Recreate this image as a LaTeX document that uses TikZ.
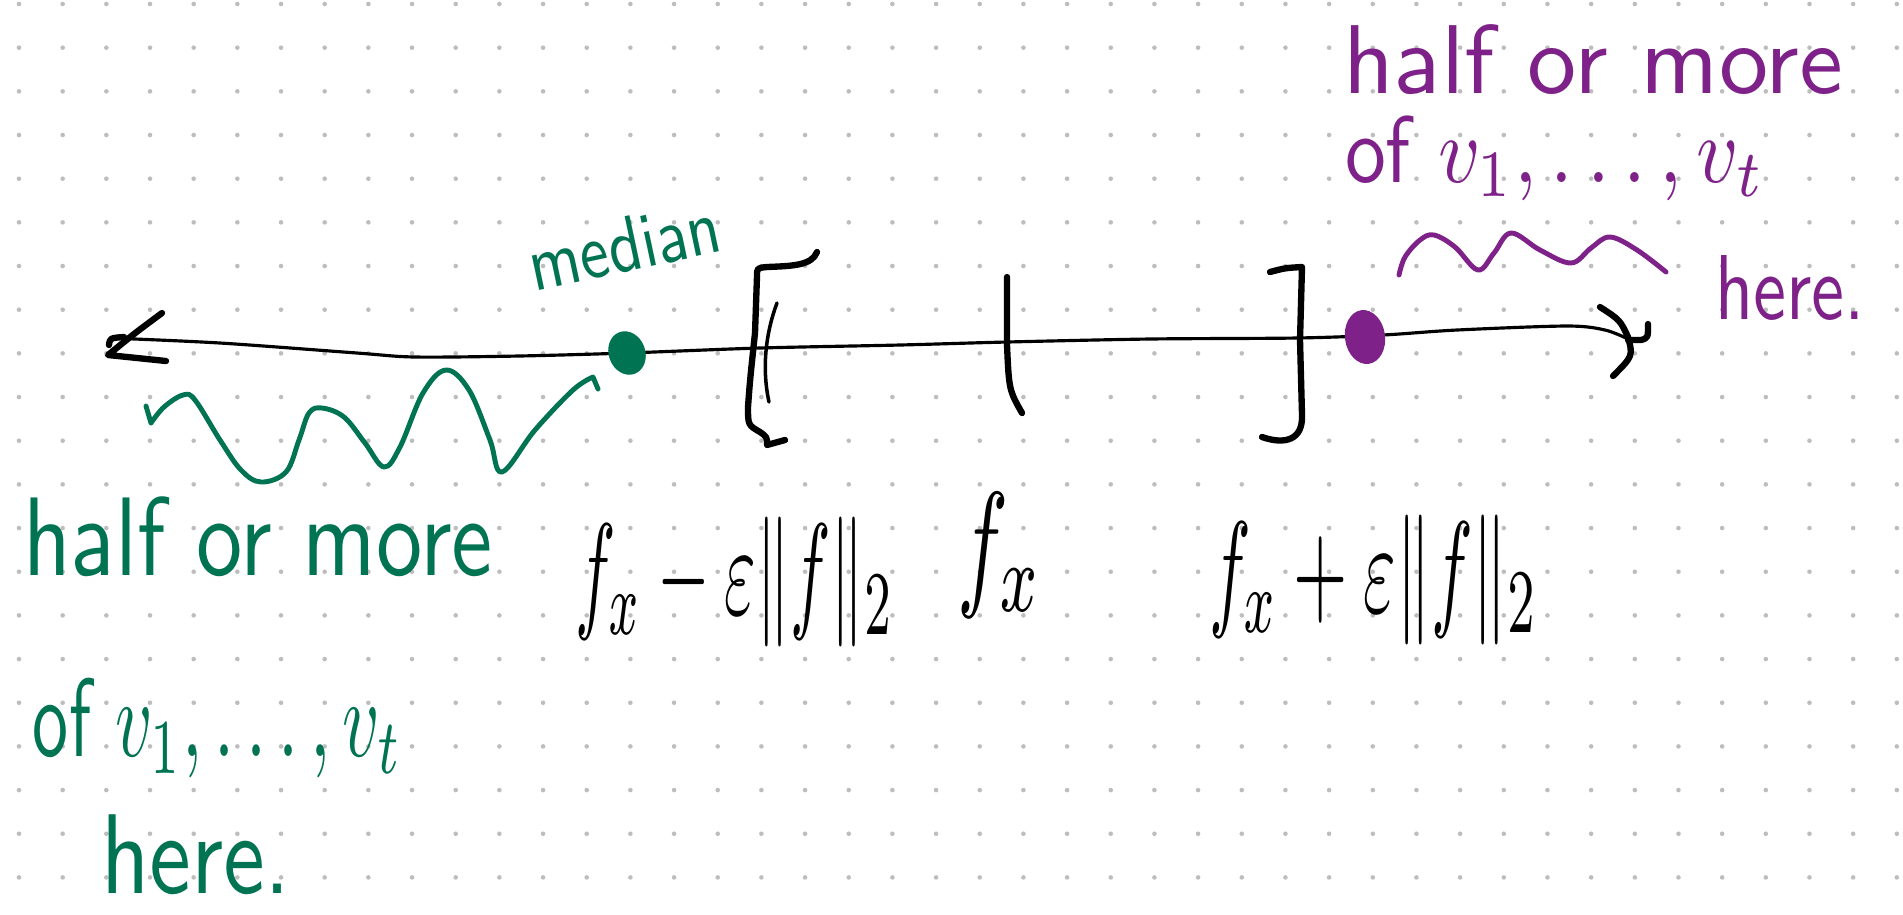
\documentclass[tikz,border=0pt]{standalone}
\usepackage{fontspec}
\usepackage{graphicx}
\newlength\pxu
\setlength\pxu{0.01cm}
% scale a piece of text to a given width and total height (in drawing units)
\newcommand\fitto[3]{\resizebox*{#1\pxu}{#2\pxu}{#3}}
\definecolor{inkgreen}{HTML}{007352}
\definecolor{inkpurple}{HTML}{7E2289}
\definecolor{griddot}{HTML}{BDBDBD}
\begin{document}
\begin{tikzpicture}[x=0.01cm,y=-0.01cm,
  pen/.style={line cap=round,line join=round},
  axisline/.style={pen,line width=0.9pt,black},
  heavy/.style={pen,line width=1.8pt,black},
  wave/.style={pen,line width=1.4pt},
  word/.style={inner sep=0pt,font=\sffamily},
  label/.style={inner sep=0pt,text=black}]
\useasboundingbox[fill=white] (0,0) rectangle (1903,914);

% dotted paper
\foreach \i in {0,...,43}
  \foreach \j in {0,...,20}
    \fill[griddot] ({19+43.67*\i},{4+43.67*\j}) circle (0.65pt);

% number line
\coordinate (leftend) at (110,338);
\coordinate (rightend) at (1628,339);
\draw[axisline] plot[smooth] coordinates {(110,338) (220,343) (357,353) (415,357) (519,356) (627,353) (760,348) (900,345) (1007,342) (1150,339) (1297,338) (1383,335) (1457,330) (1567,326) (1605,330) (1628,339)};
% arrow heads
\draw[heavy] (162,313) .. controls (135,333) .. (108,355) -- (166,361);
\draw[heavy] (109,345) .. controls (110,338) .. (124,337);
\draw[heavy] (1600,307) .. controls (1620,320) .. (1628,337) .. controls (1633,356) .. (1613,376);
\draw[heavy] (1628,340) -- (1641,340) .. controls (1648,338) .. (1648,324);

% interval brackets and centre tick
\draw[heavy] (817,252) .. controls (812,266) and (790,266) .. (767,267) .. controls (757,268) .. (757,276) -- (755,333) .. controls (750,380) .. (748,407) .. controls (748,425) .. (760,432) .. controls (767,437) .. (767,445) -- (785,440);
\draw[pen,line width=1pt] (777,303) .. controls (765,335) and (762,370) .. (769,402);
\draw[heavy] (1007,277) -- (1007,345) .. controls (1009,390) .. (1022,413);
\draw[heavy] (1270,272) .. controls (1285,268) .. (1302,267) -- (1300,340) -- (1302,415) .. controls (1303,440) and (1285,445) .. (1262,437);

% median and the second marked point
\coordinate (median) at (627,353);
\coordinate (upper) at (1365,337);
\fill[inkgreen,rotate around={20:(median)}] (median) ellipse [x radius=5.2pt, y radius=6.3pt];
\fill[inkpurple,rotate around={8:(upper)}] (upper) ellipse [x radius=5.7pt, y radius=7.7pt];

% wavy braces
\draw[wave,inkgreen] (146,406) -- (151,423) plot[smooth,tension=0.6] coordinates {(151,423) (164,407) (183,395) (195,400) (220,440) (241,470) (261,482) (286,472) (299,440) (309,413) (322,408) (344,417) (365,443) (384,467) (400,447) (423,393) (446,370) (469,390) (490,440) (502,472) (535,430) (573,390) (593,377)} -- (598,389);
\draw[wave,inkpurple] plot[smooth,tension=0.6] coordinates {(1399,275) (1405,257) (1420,240) (1434,235) (1455,247) (1478,270) (1494,253) (1511,233) (1540,250) (1571,263) (1591,248) (1610,237) (1637,250) (1666,272)};

% captions
\node[word,text=inkgreen,rotate=12] (med) at (624,245) {\fitto{195}{55}{median}};
\node[word,text=inkgreen] (lowA) at (258,537) {\fitto{470}{80}{half or more}};
\node[word,text=inkgreen] (lowB) at (218,728) {\fitto{370}{100}{of $v_1,\dots,v_t$}};
\node[word,text=inkgreen] (lowC) at (196,855) {\fitto{190}{80}{here.}};
\node[word,text=inkpurple] (upA) at (1593,60) {\fitto{500}{70}{half or more}};
\node[word,text=inkpurple] (upB) at (1555,158) {\fitto{420}{85}{of $v_1,\dots,v_t$}};
\node[word,text=inkpurple] (upC) at (1790,288) {\fitto{150}{65}{here.}};

\node[label] (lo) at (735,582) {\fitto{320}{130}{$f_x-\varepsilon\|f\|_2$}};
\node[label] (mid) at (1000,555) {\fitto{85}{125}{$f_x$}};
\node[label] (hi) at (1374,580) {\fitto{330}{130}{$f_x+\varepsilon\|f\|_2$}};
\end{tikzpicture}
\end{document}
